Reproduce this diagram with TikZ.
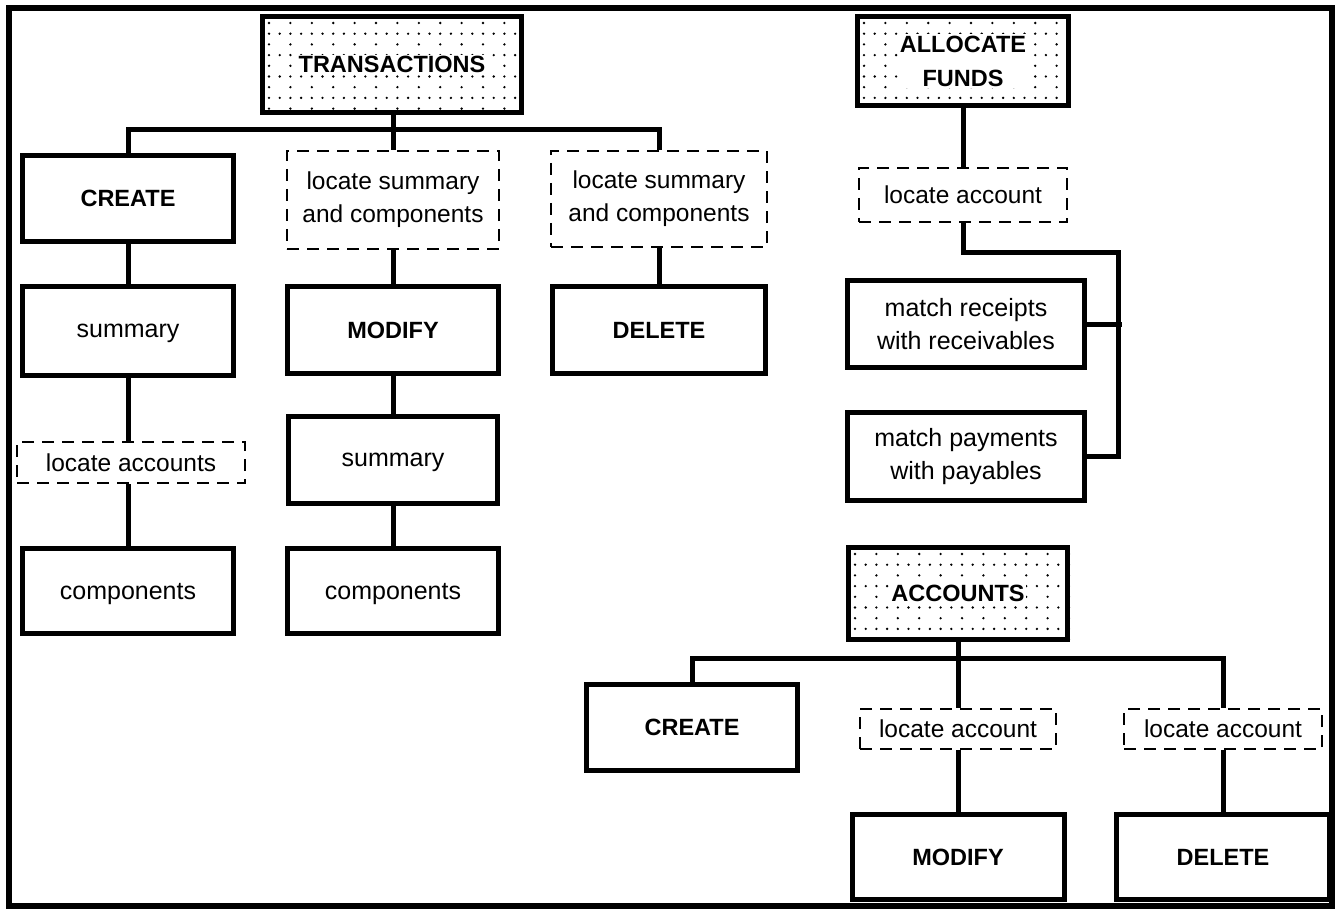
\documentclass[tikz,border=0pt]{standalone}
\usepackage{fontspec}
\setmainfont{Liberation Sans}
\usetikzlibrary{calc}
\tikzset{
 box/.style={draw, line width=5pt, inner sep=0pt, align=center, font=\fontsize{25}{33}\selectfont},
 sbox/.style={draw, line width=5pt, inner sep=0pt, text depth=0pt, font=\fontsize{25}{33}\selectfont},
 bbox/.style={draw, line width=5pt, inner sep=0pt, font=\fontsize{23.5}{32}\selectfont\bfseries},
 dbox/.style={draw, line width=2pt, dash pattern=on 12pt off 8pt, inner sep=0pt, align=center, font=\fontsize{24.5}{33}\selectfont},
 conn/.style={line width=5pt},
 dtxt/.style={fill=white, inner sep=1.5pt, align=center, font=\fontsize{23.5}{34}\selectfont\bfseries},
 sz/.style 2 args={minimum width=#1, minimum height=#2},
}
\newcommand\dotpat[1]{%
 \begin{scope}
 \clip (#1.south west) rectangle (#1.north east);
 \foreach \j in {0,2,...,12}{\foreach \i in {0,...,15}{
   \fill ($(#1.north west)+(9pt+\i*21.4pt,-9pt-\j*10.7pt)$) circle (1.3pt);}}
 \foreach \j in {1,3,...,11}{\foreach \i in {0,...,30}{
   \fill ($(#1.north west)+(9pt+\i*10.7pt,-9pt-\j*10.7pt)$) circle (1.3pt);}}
 \end{scope}}
\begin{document}
\begin{tikzpicture}[x=1pt,y=-1pt]
\useasboundingbox (0,0) rectangle (1338,912);
\draw[line width=6pt] (9,8) rectangle (1332,906);

% TRANSACTIONS tree
\node[box, sz={259}{96}] (T) at (392,64.5) {};
\dotpat{T}
\node[dtxt] (Tt) at (T.center) {TRANSACTIONS};
\node[bbox, sz={211}{86}] (C1) at (128,198.5) {CREATE};
\node[sbox, sz={211}{89}] (S1) at (128,331) {summary};
\node[dbox, sz={228}{41}] (LA1) at (131,462.5) {locate accounts};
\node[sbox, sz={211}{85}] (CO1) at (128,591) {components};
\node[dbox, sz={212}{98}] (L2) at (393,200) {locate summary\\and components};
\node[bbox, sz={211}{87}] (M2) at (393,330) {MODIFY};
\node[sbox, sz={209}{87}] (S2) at (393,460) {summary};
\node[sbox, sz={211}{85}] (CO2) at (393,591) {components};
\node[dbox, sz={216}{96}] (L3) at (659,199) {locate summary\\and components};
\node[bbox, sz={213}{87}] (D3) at (659,330) {DELETE};

\coordinate (tb) at (393,130);
\draw[conn] (T.south -| L2.north) -- (L2.north);
\draw[conn] (C1.north) |- (L3.north |- tb) -- (L3.north);
\draw[conn] (C1.south) -- (S1.north);
\draw[conn] (S1.south) -- (S1.south |- LA1.north);
\draw[conn] (S1.south |- LA1.south) -- (CO1.north);
\draw[conn] (L2.south) -- (M2.north);
\draw[conn] (M2.south) -- (S2.north);
\draw[conn] (S2.south) -- (CO2.north);
\draw[conn] (L3.south) -- (D3.north);

% ALLOCATE FUNDS tree
\node[box, sz={211}{89}] (AF) at (963,61) {};
\dotpat{AF}
\node[dtxt] (AFt) at (AF.center) {ALLOCATE\\FUNDS};
\node[dbox, sz={208}{54}] (LA) at (963,195) {locate account};
\node[box, sz={237}{87}] (MR) at (966,324) {match receipts\\with receivables};
\node[box, sz={237}{88}] (MP) at (966,456.5) {match payments\\with payables};
\coordinate (ac) at (1118,252);
\coordinate (tick) at (1122,0);
\draw[conn] (AF.south) -- (LA.north);
\draw[conn] (LA.south) |- (ac) |- (MP.east);
\draw[conn] (MR.east) -- (MR.east -| tick);

% ACCOUNTS tree
\node[box, sz={219}{92}] (A) at (958,593.5) {};
\dotpat{A}
\node[dtxt] (At) at (A.center) {ACCOUNTS};
\node[bbox, sz={211}{86}] (C2) at (692,727.5) {CREATE};
\node[dbox, sz={196}{40}] (LAm) at (958,729) {locate account};
\node[bbox, sz={212}{85}] (Mo) at (958,857) {MODIFY};
\node[dbox, sz={198}{40}] (LAr) at (1223,729) {locate account};
\node[bbox, sz={213}{85}] (De) at (1223,857) {DELETE};
\coordinate (ab) at (958,658);
\draw[conn] (A.south) -- (LAm.north);
\draw[conn] (C2.north) |- (LAr.north |- ab) -- (LAr.north);
\draw[conn] (LAm.south) -- (Mo.north);
\draw[conn] (LAr.south) -- (De.north);
\end{tikzpicture}
\end{document}
